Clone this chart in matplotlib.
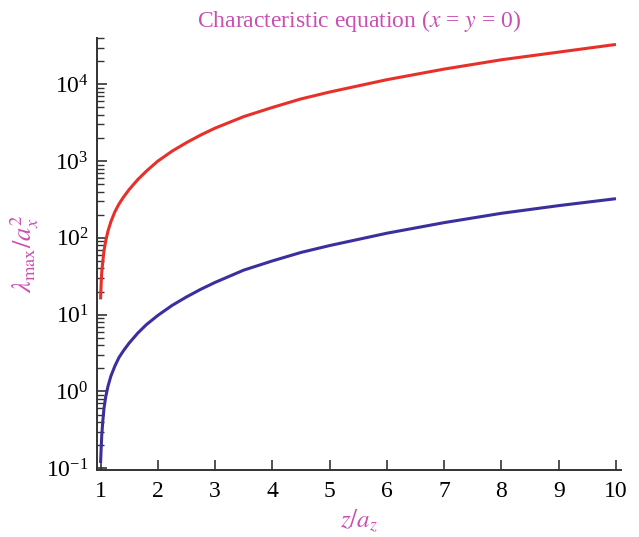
import numpy as np
import matplotlib
matplotlib.use("Agg")
import matplotlib.pyplot as plt
from matplotlib.ticker import LogLocator, NullFormatter

plt.rcParams['font.family'] = 'serif'
plt.rcParams['font.serif'] = ['Liberation Serif', 'DejaVu Serif']
plt.rcParams['mathtext.fontset'] = 'stix'

# z/a_z sample points and lambda_max/a_x^2 for the two roots
z = [1.0, 1.01, 1.02, 1.04, 1.06, 1.09, 1.13, 1.18, 1.25, 1.32, 1.4, 1.5,
     1.65, 1.8, 2.0, 2.25, 2.5, 2.75, 3.0, 3.5, 4.0, 4.5, 5.0, 6.0, 7.0,
     8.0, 9.0, 10.0]
lam_upper = [15.8, 25, 35.5, 50, 68, 91, 123, 162, 219, 275, 339, 427,
             575, 741, 1000, 1350, 1740, 2190, 2690, 3800, 5000, 6460, 7940,
             11500, 15800, 20900, 26300, 33100]
lam_lower = [0.117, 0.178, 0.263, 0.417, 0.603, 0.851, 1.17, 1.58, 2.14, 2.75,
             3.39, 4.27, 5.75, 7.41, 9.77, 13.2, 17.0, 21.4, 26.3, 38.0, 50.1,
             64.6, 79.4, 115, 158, 209, 263, 324]
xticks = [1, 2, 3, 4, 5, 6, 7, 8, 9, 10]

pink = '#c94fb0'

fig = plt.figure(figsize=(6.39, 5.37), dpi=100)
ax = fig.add_axes([0.152, 0.125, 0.82, 0.804])

ax.plot(z, lam_upper, color='#e8302a', lw=2.2, solid_capstyle='butt')
ax.plot(z, lam_lower, color='#3b2f9e', lw=2.2, solid_capstyle='butt')

ax.set_yscale('log')
ax.set_xlim(0.94, 10.09)
ax.set_ylim(0.095, 4.0e4)
ax.set_xticks(xticks)
ax.set_xticklabels([str(t) for t in xticks])
ax.yaxis.set_major_locator(LogLocator(base=10, numticks=10))
ax.yaxis.set_minor_locator(LogLocator(base=10, subs=np.arange(2, 10), numticks=20))
ax.yaxis.set_minor_formatter(NullFormatter())

for s in ['top', 'right']:
    ax.spines[s].set_visible(False)
for s in ['left', 'bottom']:
    ax.spines[s].set_linewidth(1.4)
    ax.spines[s].set_color('#333333')

ax.tick_params(axis='both', which='major', direction='in', length=7, width=1.2,
               labelsize=17, color='#333333')
ax.tick_params(axis='y', which='minor', direction='in', length=5, width=1.0,
               color='#333333')
ax.tick_params(axis='y', which='major', pad=6)
ax.tick_params(axis='x', which='major', pad=8)

ax.set_title(r'Characteristic equation ($x$ = $y$ = 0)', color=pink,
             fontsize=17, pad=8)
ax.set_xlabel(r'$z/a_z$', color=pink, fontsize=18, labelpad=4)
ax.set_ylabel(r'$\lambda_{\max}/a_x^2$', color=pink, fontsize=19, labelpad=4)

fig.savefig('out.png', dpi=100)
